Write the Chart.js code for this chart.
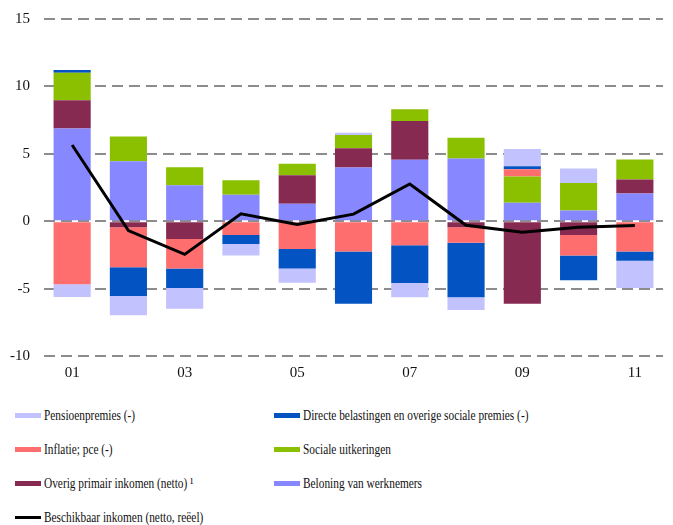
<!DOCTYPE html>
<html>
<head>
<meta charset="utf-8">
<script src="https://cdn.jsdelivr.net/npm/chart.js@4.4.1/dist/chart.umd.min.js"></script>
<style>
  body { margin: 0; background: #fff; font-family: "Liberation Serif", serif; }
  #wrap { position: relative; width: 673px; height: 525px; overflow: hidden; }
  #chart-box { position: absolute; left: 0; top: -4px; width: 673px; height: 394px; }
  .leg { position: absolute; font-size: 14px; color: #111; white-space: nowrap; height: 20px; line-height: 20px; }
  .leg .txt { display: inline-block; transform-origin: left center; transform: scaleX(0.81); vertical-align: middle; }
  .sw { display: inline-block; width: 26px; height: 5px; vertical-align: middle; margin-right: 3px; }
</style>
</head>
<body>
<div id="wrap">
  <div id="chart-box"><canvas id="bar-chart"></canvas></div>
  <div id="legend"></div>
</div>
<script>
var years = ['01', '02', '03', '04', '05', '06', '07', '08', '09', '10', '11'];

// componenten (procentpunten)
var beloning  = [6.87, 4.45, 2.66, 1.97, 1.29, 3.98, 4.55, 4.65, 1.37, 0.80, 2.06];
var overig    = [2.10, -0.45, -1.32, 0, 2.11, 1.44, 2.89, -0.45, -6.12, -1.02, 1.04];
var sociale   = [2.04, 1.84, 1.34, 1.07, 0.87, 0.97, 0.87, 1.54, 1.94, 2.04, 1.47];
var inflatie  = [-4.68, -2.96, -2.19, -1.02, -2.06, -2.24, -1.79, -1.14, 0.55, -1.52, -2.24];
var directe   = [0.20, -2.14, -1.44, -0.67, -1.44, -3.88, -2.79, -4.05, 0.22, -1.84, -0.70];
var pensioen  = [-0.95, -1.42, -1.54, -0.85, -1.07, 0.17, -1.07, -0.95, 1.27, 1.07, -2.01];
var beschikbaar = [5.65, -0.70, -2.46, 0.55, -0.25, 0.52, 2.76, -0.30, -0.82, -0.45, -0.32];

var yTicks = [15, 10, 5, 0, -5, -10];

var colors = {
    pensioen: '#c2c2ff',
    directe: '#0353c2',
    inflatie: '#ff6e6e',
    sociale: '#8ac000',
    overig: '#872a52',
    beloning: '#8788ff',
    beschikbaar: '#000000'
};

var names = {
    pensioen: 'Pensioenpremies (-)',
    directe: 'Directe belastingen en overige sociale premies (-)',
    inflatie: 'Inflatie; pce (-)',
    sociale: 'Sociale uitkeringen',
    overig: 'Overig primair inkomen (netto) \u00b9',
    beloning: 'Beloning van werknemers',
    beschikbaar: 'Beschikbaar inkomen (netto, re\u00ebel)'
};

function barSet(key, data) {
    return {
        type: 'bar',
        label: names[key],
        data: data,
        backgroundColor: colors[key],
        borderWidth: 0,
        stack: 's',
        order: 2
    };
}

var handleChartJs = function () {
    var ctx = document.getElementById('bar-chart').getContext('2d');
    window.myBar = new Chart(ctx, {
        data: {
            labels: years,
            datasets: [
                {
                    type: 'line',
                    label: names.beschikbaar,
                    data: beschikbaar,
                    borderColor: colors.beschikbaar,
                    borderWidth: 3,
                    pointRadius: 0,
                    tension: 0,
                    order: 1
                },
                barSet('beloning', beloning),
                barSet('overig', overig),
                barSet('sociale', sociale),
                barSet('inflatie', inflatie),
                barSet('directe', directe),
                barSet('pensioen', pensioen)
            ]
        },
        options: {
            responsive: true,
            maintainAspectRatio: false,
            animation: false,
            layout: { padding: { top: 0, right: 10, left: 0, bottom: 0 } },
            datasets: { bar: { barPercentage: 0.66, categoryPercentage: 1 } },
            plugins: { legend: { display: false }, tooltip: { enabled: false } },
            scales: {
                x: {
                    stacked: true,
                    grid: { display: false, drawTicks: false },
                    border: { display: false },
                    ticks: {
                        autoSkip: false,
                        maxRotation: 0,
                        color: '#111',
                        font: { family: 'Liberation Serif', size: 15 },
                        padding: 8,
                        callback: function (v, i) { return i % 2 === 0 ? years[i] : ''; }
                    }
                },
                y: {
                    stacked: true,
                    min: -10,
                    max: 15,
                    z: 1,
                    afterFit: function (s) { s.width = 44; },
                    afterBuildTicks: function (s) {
                        s.ticks = yTicks.map(function (v) { return { value: v }; });
                    },
                    grid: { color: '#8c8c8c', lineWidth: 2, drawTicks: false },
                    border: { display: false, dash: [11, 6] },
                    ticks: {
                        color: '#111',
                        padding: 14,
                        font: { family: 'Liberation Serif', size: 15 }
                    }
                }
            }
        }
    });
};

function buildLegend() {
    var order = ['pensioen', 'directe', 'inflatie', 'sociale', 'overig', 'beloning', 'beschikbaar'];
    var box = document.getElementById('legend');
    order.forEach(function (key, i) {
        var col = i % 2, row = Math.floor(i / 2);
        var d = document.createElement('div');
        d.className = 'leg';
        d.style.left = (col === 0 ? 15 : 274) + 'px';
        d.style.top = (405 + row * 34) + 'px';
        var sw = document.createElement('span');
        sw.className = 'sw';
        sw.style.background = colors[key];
        if (key === 'beschikbaar') { sw.style.height = '3px'; }
        var t = document.createElement('span');
        t.className = 'txt';
        t.textContent = names[key];
        d.appendChild(sw);
        d.appendChild(t);
        box.appendChild(d);
    });
}

handleChartJs();
buildLegend();
</script>
</body>
</html>
